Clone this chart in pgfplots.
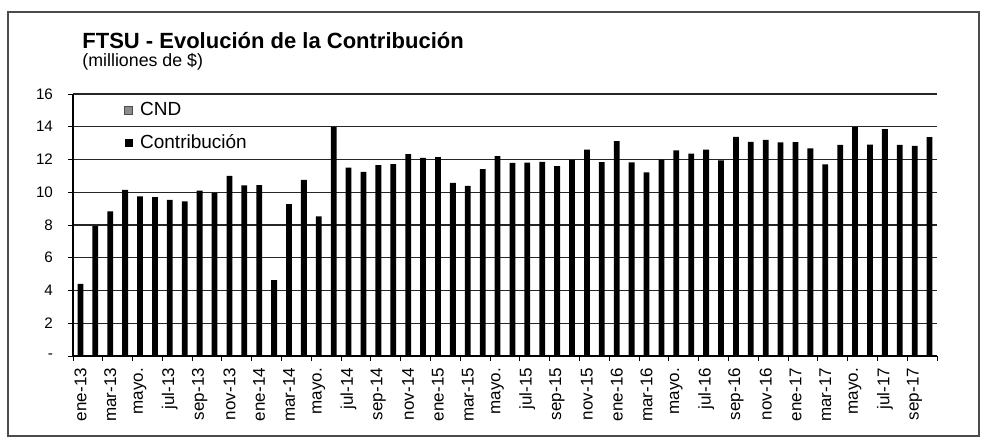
\documentclass[border=0pt]{standalone}
\usepackage{pgfplots}
\pgfplotsset{compat=1.18}
\usepackage{fontspec}
\setmainfont{Liberation Sans}
\begin{document}
\begin{tikzpicture}
\useasboundingbox (0pt,0pt) rectangle (490.5pt,-220.5pt);
\draw[black!70, line width=0.6pt] (4pt,-6pt) rectangle (489.5pt,-218pt);
\node[anchor=base west, inner sep=0pt, font=\bfseries\fontsize{11}{13}\selectfont] at (41pt,-24pt) {FTSU - Evolución de la Contribución};
\node[anchor=base west, inner sep=0pt, font=\fontsize{8.9}{10}\selectfont] at (41pt,-33pt) {(milliones de \$)};
\begin{axis}[
  at={(36.5pt,-178pt)}, anchor=south west,
  scale only axis, width=432pt, height=131pt,
  xmin=-0.5, xmax=57.5, ymin=0, ymax=16,
  axis x line*=bottom, axis y line*=left,
  axis line style={black, line width=0.6pt},
  ytick={0,2,...,16},
  yticklabels={-,2,4,6,8,10,12,14,16},
  ymajorgrids, grid style={black!85, line width=0.6pt},
  tick align=outside, major tick length=2.5pt,
  tick style={black, line width=0.5pt},
  xtick={0,2,...,56},
  xticklabels={ene-13,mar-13,mayo.,jul-13,sep-13,nov-13,ene-14,mar-14,mayo.,jul-14,sep-14,nov-14,ene-15,mar-15,mayo.,jul-15,sep-15,nov-15,ene-16,mar-16,mayo.,jul-16,sep-16,nov-16,ene-17,mar-17,mayo.,jul-17,sep-17},
  xtick style={draw=none},
  extra x ticks={-0.5,1.5,...,57.5},
  extra x tick labels={},
  extra x tick style={xtick style={draw=black}, xmajorgrids=false},
  xticklabel style={rotate=90, anchor=east, font=\fontsize{8.5}{10}\selectfont},
  yticklabel style={font=\fontsize{7.6}{9}\selectfont, xshift=-4pt},
  sqleg/.style={legend image code/.code={\fill[##1] (0pt,-2pt) rectangle (4pt,2pt);}},
  legend style={draw=none, fill=none, at={(0.052,0.997)}, anchor=north west,
    font=\fontsize{9.5}{11}\selectfont, row sep=5.4pt, column sep=2.5pt,
    nodes={inner sep=1pt, text height=7pt, text depth=2pt}},
  legend cell align=left,
]
\addlegendimage{sqleg, fill=black!45, draw=black!70}
\addlegendentry{CND}
\addplot[ybar, bar width=2.9pt, fill=black, draw=none, sqleg] coordinates {
(0,4.4) (1,7.95) (2,8.84) (3,10.14) (4,9.75) (5,9.7) (6,9.53) (7,9.44) (8,10.1) (9,9.96)
(10,11.0) (11,10.42) (12,10.43) (13,4.64) (14,9.28) (15,10.76) (16,8.53) (17,14.0) (18,11.5) (19,11.25)
(20,11.65) (21,11.72) (22,12.33) (23,12.1) (24,12.15) (25,10.58) (26,10.39) (27,11.42) (28,12.2) (29,11.8)
(30,11.81) (31,11.86) (32,11.6) (33,11.98) (34,12.6) (35,11.84) (36,13.13) (37,11.82) (38,11.21) (39,12.0)
(40,12.56) (41,12.36) (42,12.6) (43,11.94) (44,13.38) (45,13.08) (46,13.2) (47,13.04) (48,13.06) (49,12.68)
(50,11.71) (51,12.89) (52,13.98) (53,12.91) (54,13.86) (55,12.89) (56,12.84) (57,13.37)
};
\addlegendentry{Contribución}
\end{axis}
\end{tikzpicture}
\end{document}
